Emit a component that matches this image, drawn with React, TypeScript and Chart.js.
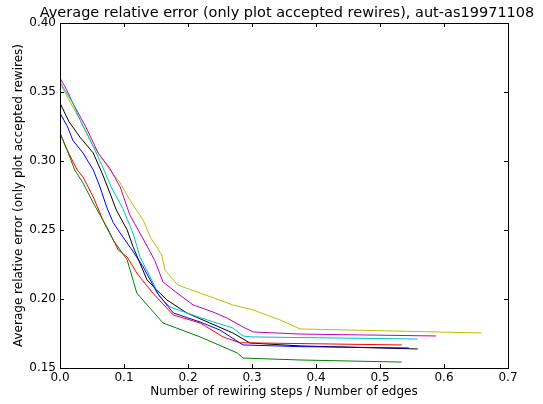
import React, { useEffect, useRef } from "react";
import { Chart, registerables } from "chart.js";

Chart.register(...registerables);

const titleText = "Average relative error (only plot accepted rewires), aut-as19971108";
const xLabel = "Number of rewiring steps / Number of edges";
const yLabel = "Average relative error (only plot accepted rewires)";

const xTickStep = 0.1;
const yTickStep = 0.05;

const xBlue = [0, 0.012, 0.02, 0.036, 0.052, 0.0625, 0.073, 0.083, 0.094, 0.1125, 0.13, 0.152, 0.177, 0.219, 0.25, 0.286, 0.375, 0.545];
const yBlue = [0.3348, 0.3246, 0.315, 0.3058, 0.2935, 0.2812, 0.2665, 0.2555, 0.2478, 0.2355, 0.2232, 0.2043, 0.1899, 0.1833, 0.1775, 0.1667, 0.1655, 0.1645];

const xGreen = [0, 0.011, 0.023, 0.036, 0.052, 0.067, 0.083, 0.094, 0.105, 0.12, 0.161, 0.219, 0.277, 0.286, 0.375, 0.534];
const yGreen = [0.3203, 0.308, 0.2935, 0.2841, 0.2696, 0.2572, 0.2428, 0.2355, 0.2283, 0.2043, 0.1826, 0.1725, 0.1609, 0.1572, 0.1558, 0.1543];

const xRed = [0, 0.011, 0.027, 0.036, 0.052, 0.067, 0.078, 0.091, 0.105, 0.12, 0.145, 0.177, 0.219, 0.255, 0.281, 0.534];
const yRed = [0.3203, 0.308, 0.2935, 0.2884, 0.2739, 0.2572, 0.2478, 0.2355, 0.2304, 0.2188, 0.2043, 0.1884, 0.1826, 0.1725, 0.1683, 0.1667];

const xCyan = [0, 0.02, 0.034, 0.052, 0.065, 0.08, 0.098, 0.114, 0.125, 0.141, 0.156, 0.172, 0.198, 0.23, 0.27, 0.286, 0.3, 0.559];
const yCyan = [0.3572, 0.342, 0.327, 0.3105, 0.2975, 0.2812, 0.2656, 0.2478, 0.2304, 0.2159, 0.2014, 0.1942, 0.1899, 0.1848, 0.179, 0.1732, 0.1725, 0.171];

const xMagenta = [0, 0.01, 0.02, 0.04, 0.06, 0.078, 0.094, 0.109, 0.13, 0.148, 0.161, 0.183, 0.208, 0.239, 0.261, 0.286, 0.302, 0.375, 0.5875];
const yMagenta = [0.3601, 0.352, 0.342, 0.325, 0.3055, 0.2946, 0.2812, 0.261, 0.2435, 0.228, 0.2123, 0.2043, 0.1957, 0.1906, 0.1862, 0.1797, 0.1761, 0.1746, 0.1732];

const xYellow = [0, 0.02, 0.035, 0.05, 0.06, 0.078, 0.094, 0.109, 0.13, 0.141, 0.159, 0.164, 0.184, 0.219, 0.27, 0.302, 0.344, 0.375, 0.659];
const yYellow = [0.3565, 0.3391, 0.327, 0.3125, 0.3055, 0.2935, 0.2841, 0.2717, 0.2572, 0.2449, 0.2319, 0.221, 0.2101, 0.2043, 0.1957, 0.192, 0.1848, 0.1783, 0.1754];

const xBlack = [0, 0.014, 0.031, 0.052, 0.067, 0.078, 0.088, 0.105, 0.114, 0.136, 0.156, 0.167, 0.198, 0.234, 0.27, 0.297, 0.375, 0.559];
const yBlack = [0.342, 0.3285, 0.3174, 0.3058, 0.2898, 0.2768, 0.2645, 0.25, 0.238, 0.2138, 0.2043, 0.1993, 0.1899, 0.1826, 0.1754, 0.1681, 0.166, 0.1638];

const seriesList = [
  { name: "b", color: "#0000ff", xs: xBlue, ys: yBlue },
  { name: "g", color: "#008000", xs: xGreen, ys: yGreen },
  { name: "r", color: "#ff0000", xs: xRed, ys: yRed },
  { name: "c", color: "#00bfbf", xs: xCyan, ys: yCyan },
  { name: "m", color: "#bf00bf", xs: xMagenta, ys: yMagenta },
  { name: "y", color: "#bfbf00", xs: xYellow, ys: yYellow },
  { name: "k", color: "#000000", xs: xBlack, ys: yBlack },
];

const FONT = "'DejaVu Sans', sans-serif";

const framePlugin = {
  id: "mplFrame",
  afterDraw(chart: any) {
    const { ctx, chartArea } = chart;
    const { left, right, top, bottom } = chartArea;
    ctx.save();
    ctx.strokeStyle = "#000";
    ctx.lineWidth = 1;
    ctx.beginPath();
    const tl = 4;
    const xs = chart.scales.x;
    const ys = chart.scales.y;
    xs.ticks.forEach((t: any) => {
      const p = Math.round(xs.getPixelForValue(t.value)) + 0.5;
      ctx.moveTo(p, bottom);
      ctx.lineTo(p, bottom - tl);
      ctx.moveTo(p, top);
      ctx.lineTo(p, top + tl);
    });
    ys.ticks.forEach((t: any) => {
      const p = Math.round(ys.getPixelForValue(t.value)) + 0.5;
      ctx.moveTo(left, p);
      ctx.lineTo(left + tl, p);
      ctx.moveTo(right, p);
      ctx.lineTo(right - tl, p);
    });
    ctx.stroke();
    ctx.strokeRect(Math.round(left) + 0.5, Math.round(top) + 0.5, Math.round(right - left), Math.round(bottom - top));
    ctx.fillStyle = "#000";
    ctx.font = "14.5px " + FONT;
    ctx.textAlign = "center";
    ctx.textBaseline = "alphabetic";
    ctx.fillText(titleText, (left + right) / 2 + 3, top - 6);
    ctx.restore();
  },
};

export default function App() {
  const canvasRef = useRef<HTMLCanvasElement | null>(null);
  useEffect(() => {
    document.body.style.margin = "0";
    const canvas = canvasRef.current;
    if (!canvas) return;
    const datasets = seriesList.map((s) => ({
      label: s.name,
      data: s.xs.map((x, i) => ({ x, y: s.ys[i] })),
      borderColor: s.color,
      backgroundColor: s.color,
      borderWidth: 1,
      pointRadius: 0,
      showLine: true,
      fill: false,
      tension: 0,
    }));
    const chart = new Chart(canvas, {
      type: "scatter",
      data: { datasets },
      plugins: [framePlugin],
      options: {
        animation: false,
        responsive: false,
        maintainAspectRatio: false,
        layout: { padding: { top: 23, right: 35, bottom: 0, left: 0 } },
        plugins: {
          legend: { display: false },
          tooltip: { enabled: false },
          title: { display: false },
        },
        scales: {
          x: {
            type: "linear",
            min: 0,
            max: 0.7,
            grid: { display: false, drawTicks: false },
            border: { display: false },
            ticks: {
              stepSize: xTickStep,
              padding: 3,
              color: "#000",
              font: { family: FONT, size: 12 },
              maxRotation: 0,
              callback: (v: any) => Number(v).toFixed(1),
            },
            title: {
              display: true,
              text: xLabel,
              color: "#000",
              font: { family: FONT, size: 12 },
              padding: { top: 0, bottom: 5 },
            },
            afterFit: (s: any) => {
              s.height = 36;
            },
          },
          y: {
            type: "linear",
            min: 0.15,
            max: 0.4,
            grid: { display: false, drawTicks: false },
            border: { display: false },
            ticks: {
              stepSize: yTickStep,
              padding: 4,
              color: "#000",
              font: { family: FONT, size: 12 },
              callback: (v: any) => Number(v).toFixed(2),
            },
            title: {
              display: true,
              text: yLabel,
              color: "#000",
              font: { family: FONT, size: 12 },
              padding: { top: 12, bottom: 0 },
            },
            afterFit: (s: any) => {
              s.width = 60;
            },
          },
        },
      },
    });
    return () => chart.destroy();
  }, []);
  return (
    <div style={{ position: "relative", width: 543, height: 404 }}>
      <canvas ref={canvasRef} width={543} height={404} style={{ width: 543, height: 404, display: "block" }} />
    </div>
  );
}
